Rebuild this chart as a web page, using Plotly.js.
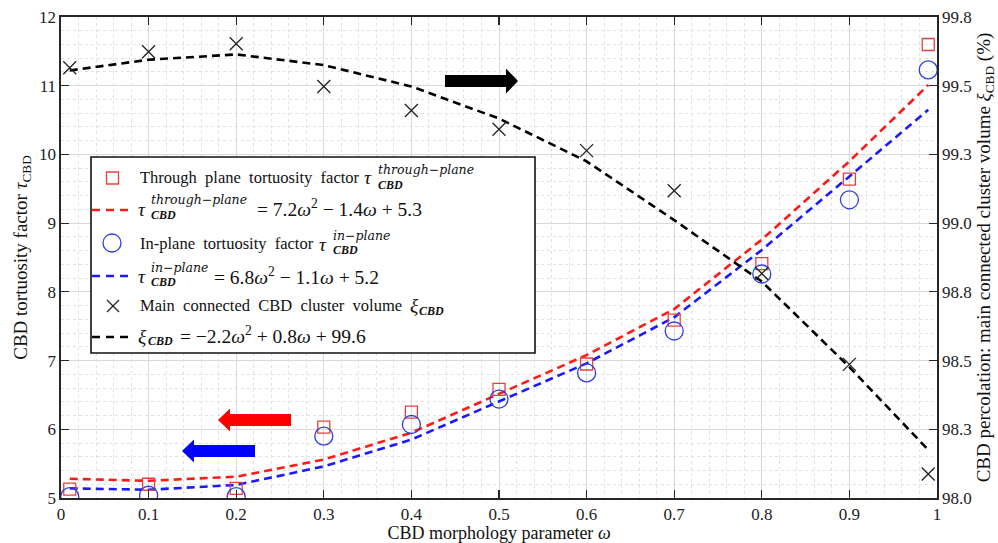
<!DOCTYPE html>
<html>
<head>
<meta charset="utf-8">
<script src="https://cdn.plot.ly/plotly-3.0.1.min.js"></script>
<style>html,body{margin:0;padding:0;background:#fff;}#chart{width:998px;height:543px;}</style>
</head>
<body>
<div id="chart"></div>
<script>
// ---- data ----
const omega = [0.01, 0.1, 0.2, 0.3, 0.4, 0.5, 0.6, 0.7, 0.8, 0.9, 0.99];
const tauThrough = [5.13, 5.20, 5.14, 6.03, 6.25, 6.58, 6.95, 7.59, 8.41, 9.64, 11.60];
const tauIn = [5.02, 5.04, 5.02, 5.90, 6.07, 6.44, 6.82, 7.43, 8.26, 9.34, 11.23];
const xiCluster = [99.61, 99.67, 99.70, 99.54, 99.45, 99.38, 99.30, 99.15, 98.84, 98.50, 98.09];
const fitThrough = [5.28, 5.25, 5.31, 5.56, 5.95, 6.52, 7.08, 7.75, 8.76, 9.90, 11.01];
const fitIn = [5.14, 5.12, 5.19, 5.46, 5.85, 6.40, 6.96, 7.63, 8.61, 9.68, 10.65];
const fitXi = [99.60, 99.64, 99.66, 99.62, 99.54, 99.42, 99.26, 99.04, 98.81, 98.49, 98.18];
const rightTickVals = [98, 98.2571, 98.5143, 98.7714, 99.0286, 99.2857, 99.5429, 99.8];
const rightTickText = ['98.0', '98.3', '98.5', '98.8', '99.0', '99.3', '99.5', '99.8'];

// ---- layout helpers (pixel -> paper) ----
const PL = 61, PR = 937, PT = 17, PB = 498;
const fx = p => (p - PL) / (PR - PL);
const fy = p => (PB - p) / (PB - PT);

const SERIF = 'Liberation Serif, Times New Roman, serif';
const RED = '#ff1a1a', BLUE = '#1a1aff', BLACK = '#000000';
const RED_M = '#e8403f', BLUE_M = '#2f3fe0';

const traces = [
  {x: omega, y: fitThrough, type: 'scatter', mode: 'lines', yaxis: 'y',
   line: {color: RED, width: 2.6, dash: '8px,5px'}, showlegend: false, hoverinfo: 'skip'},
  {x: omega, y: fitIn, type: 'scatter', mode: 'lines', yaxis: 'y',
   line: {color: BLUE, width: 2.6, dash: '8px,5px'}, showlegend: false, hoverinfo: 'skip'},
  {x: omega, y: tauThrough, type: 'scatter', mode: 'markers', yaxis: 'y',
   marker: {symbol: 'square-open', size: 12, color: RED_M, line: {width: 1.3, color: RED_M}}, showlegend: false},
  {x: omega, y: tauIn, type: 'scatter', mode: 'markers', yaxis: 'y',
   marker: {symbol: 'circle-open', size: 18, color: BLUE_M, line: {width: 1.3, color: BLUE_M}}, showlegend: false},
  {x: omega, y: fitXi, type: 'scatter', mode: 'lines', yaxis: 'y2',
   line: {color: BLACK, width: 2.6, dash: '8px,5px'}, showlegend: false, hoverinfo: 'skip'},
  {x: omega, y: xiCluster, type: 'scatter', mode: 'markers', yaxis: 'y2',
   marker: {symbol: 'x-thin-open', size: 13, color: '#222', line: {width: 1.3, color: '#222'}}, showlegend: false}
];

function arrowPath(tipX, tailX, cy, bodyH, headH, headL) {
  const dir = Math.sign(tailX - tipX);
  const hx = tipX + dir * headL;
  const pts = [[tipX, cy], [hx, cy - headH / 2], [hx, cy - bodyH / 2], [tailX, cy - bodyH / 2],
               [tailX, cy + bodyH / 2], [hx, cy + bodyH / 2], [hx, cy + headH / 2]];
  return 'M ' + pts.map(p => fx(p[0]).toFixed(5) + ',' + fy(p[1]).toFixed(5)).join(' L ') + ' Z';
}

const shapes = [];
// arrows
shapes.push({type: 'path', xref: 'paper', yref: 'paper', path: arrowPath(518, 445, 81, 12, 25, 12), fillcolor: BLACK, line: {width: 0}, layer: 'above'});
shapes.push({type: 'path', xref: 'paper', yref: 'paper', path: arrowPath(218, 291, 420, 12, 23, 12), fillcolor: '#ff0000', line: {width: 0}, layer: 'above'});
shapes.push({type: 'path', xref: 'paper', yref: 'paper', path: arrowPath(182, 255, 451, 12, 23, 12), fillcolor: '#0000ff', line: {width: 0}, layer: 'above'});
// legend box
shapes.push({type: 'rect', xref: 'paper', yref: 'paper', x0: fx(91), x1: fx(535), y0: fy(157), y1: fy(353),
  fillcolor: '#ffffff', line: {color: '#111', width: 1.6}, layer: 'above'});
// legend symbols
shapes.push({type: 'rect', xref: 'paper', yref: 'paper', x0: fx(106.5), x1: fx(118.5), y0: fy(172), y1: fy(184),
  line: {color: RED_M, width: 1.3}, layer: 'above'});
shapes.push({type: 'line', xref: 'paper', yref: 'paper', x0: fx(92), x1: fx(128), y0: fy(210), y1: fy(210),
  line: {color: RED, width: 2.6, dash: '8px,6px'}, layer: 'above'});
shapes.push({type: 'circle', xref: 'paper', yref: 'paper', x0: fx(103), x1: fx(121), y0: fy(234), y1: fy(252),
  line: {color: BLUE_M, width: 1.3}, layer: 'above'});
shapes.push({type: 'line', xref: 'paper', yref: 'paper', x0: fx(92), x1: fx(128), y0: fy(276), y1: fy(276),
  line: {color: BLUE, width: 2.6, dash: '8px,6px'}, layer: 'above'});
shapes.push({type: 'line', xref: 'paper', yref: 'paper', x0: fx(107), x1: fx(119), y0: fy(300), y1: fy(312),
  line: {color: '#222', width: 1.3}, layer: 'above'});
shapes.push({type: 'line', xref: 'paper', yref: 'paper', x0: fx(107), x1: fx(119), y0: fy(312), y1: fy(300),
  line: {color: '#222', width: 1.3}, layer: 'above'});
shapes.push({type: 'line', xref: 'paper', yref: 'paper', x0: fx(92), x1: fx(128), y0: fy(337), y1: fy(337),
  line: {color: BLACK, width: 2.6, dash: '8px,6px'}, layer: 'above'});

const MAIN = 16.5, EQ = 19.5, SUP = 12.5, SUB = 12;
const SP = '\u2002';
function ann(text, x, y, size, family) {
  return {text: text, xref: 'paper', yref: 'paper', x: fx(x), y: fy(y), xanchor: 'left', yanchor: 'middle',
    showarrow: false, borderpad: 0, font: {family: family || SERIF, size: size, color: '#111'}};
}
const SCRIPT = 'DejaVu Serif, serif';
const annotations = [
  // row 1
  ann(['Through', 'plane', 'tortuosity', 'factor'].join(SP), 139, 177, MAIN),
  ann('<i>τ</i>', 363, 178, EQ),
  ann('<i>through−plane</i>', 377, 169, SUP, SCRIPT),
  ann('<b><i>CBD</i></b>', 377, 185, SUB),
  // row 2
  ann('<i>τ</i>', 137, 209, EQ),
  ann('<i>through−plane</i>', 150, 200, SUP, SCRIPT),
  ann('<b><i>CBD</i></b>', 150, 215, SUB),
  ann('= 7.2<i>ω</i><sup>2</sup> − 1.4<i>ω</i> + 5.3', 256, 208, EQ),
  // row 3
  ann(['In-plane', 'tortuosity', 'factor'].join(SP), 139, 243, MAIN),
  ann('<i>τ</i>', 318, 244, EQ),
  ann('<i>in−plane</i>', 332, 235, SUP, SCRIPT),
  ann('<b><i>CBD</i></b>', 332, 250, SUB),
  // row 4
  ann('<i>τ</i>', 137, 276, EQ),
  ann('<i>in−plane</i>', 150, 267, SUP, SCRIPT),
  ann('<b><i>CBD</i></b>', 150, 282, SUB),
  ann('= 6.8<i>ω</i><sup>2</sup> − 1.1<i>ω</i> + 5.2', 213, 276, EQ),
  // row 5
  ann(['Main', 'connected', 'CBD', 'cluster', 'volume'].join(SP), 139, 305, MAIN),
  ann('<i>ξ</i>', 409, 305, EQ),
  ann('<b><i>CBD</i></b>', 418, 311, SUB),
  // row 6
  ann('<i>ξ</i>', 137, 336, EQ),
  ann('<b><i>CBD</i></b>', 147, 341, SUB),
  ann('= −2.2<i>ω</i><sup>2</sup> + 0.8<i>ω</i> + 99.6', 179, 335, EQ)
];

const tickFont = {family: SERIF, size: 17, color: '#222'};
const AXC = '#262626';
const layout = {
  width: 998, height: 543,
  margin: {l: PL, r: 998 - PR, t: PT, b: 543 - PB, pad: 0},
  paper_bgcolor: '#ffffff', plot_bgcolor: '#ffffff',
  showlegend: false,
  font: {family: SERIF, color: '#111'},
  xaxis: {
    range: [0, 1], dtick: 0.1, tick0: 0, ticks: 'inside', ticklen: 8, tickwidth: 1.2, tickcolor: AXC,
    showline: true, linecolor: AXC, linewidth: 1.6, mirror: 'ticks',
    showgrid: true, gridcolor: '#d9d9d9', gridwidth: 1, zeroline: false,
    minor: {dtick: 0.02, showgrid: true, gridcolor: '#e2e2e2', griddash: 'dot', gridwidth: 1, ticks: ''},
    tickfont: tickFont, automargin: false,
    title: {text: 'CBD morphology parameter <i>ω</i>', font: {family: SERIF, size: 18, color: '#111'}, standoff: 5}
  },
  yaxis: {
    range: [5, 12], dtick: 1, tick0: 5, ticks: 'inside', ticklen: 8, tickwidth: 1.2, tickcolor: AXC,
    showline: true, linecolor: AXC, linewidth: 1.6, mirror: false,
    showgrid: true, gridcolor: '#d9d9d9', gridwidth: 1, zeroline: false,
    minor: {dtick: 0.2, showgrid: true, gridcolor: '#e2e2e2', griddash: 'dot', gridwidth: 1, ticks: ''},
    tickfont: tickFont, automargin: false,
    title: {text: 'CBD tortuosity factor <i>τ</i><sub>CBD</sub>', font: {family: SERIF, size: 19, color: '#111'}, standoff: 6}
  },
  yaxis2: {
    overlaying: 'y', side: 'right', range: [98, 99.8],
    tickmode: 'array', tickvals: rightTickVals, ticktext: rightTickText,
    ticks: 'inside', ticklen: 8, tickwidth: 1.2, tickcolor: AXC,
    showline: true, linecolor: AXC, linewidth: 1.6, showgrid: false, zeroline: false,
    tickfont: tickFont, automargin: false,
    title: {text: 'CBD percolation: main connected cluster volume <i>ξ</i><sub>CBD</sub> (%)', font: {family: SERIF, size: 19, color: '#111'}, standoff: 6}
  },
  shapes: shapes,
  annotations: annotations
};

Plotly.newPlot('chart', traces, layout, {displayModeBar: false, staticPlot: true});
</script>
</body>
</html>
